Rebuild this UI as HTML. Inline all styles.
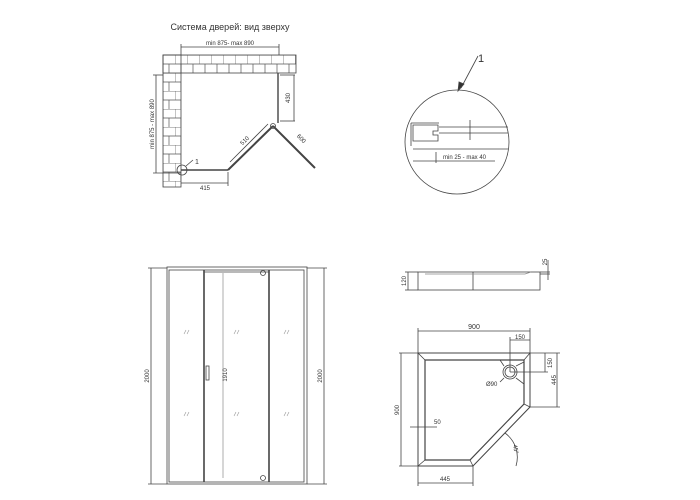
<!DOCTYPE html>
<html><head><meta charset="utf-8"><style>body{margin:0;background:#fff}svg{display:block}text{font-family:"Liberation Sans","DejaVu Sans",sans-serif;fill:#333}</style></head>
<body>
<svg width="700" height="500" viewBox="0 0 700 500" xmlns="http://www.w3.org/2000/svg">
<defs>
<pattern id="br" x="163" y="55" width="12" height="18" patternUnits="userSpaceOnUse"><rect width="12" height="18" fill="#fff"/><path d="M0 0 H12 M0 9 H12 M0 0 V9 M6 9 V18" stroke="#555" stroke-width="0.7" fill="none"/></pattern>
</defs>
<g stroke="#444" fill="none" stroke-width="0.8">
<!-- top view -->
<text x="230" y="30" font-size="9" text-anchor="middle" stroke="none">Система дверей: вид зверху</text>
<rect x="163" y="55" width="133" height="18" fill="url(#br)" stroke="none"/>
<rect x="163" y="73" width="18" height="114" fill="url(#br)" stroke="none"/>
<rect x="163" y="55" width="133" height="18"/>
<rect x="163" y="55" width="18" height="132"/>
<line x1="181" y1="47" x2="279" y2="47"/><line x1="181" y1="44" x2="181" y2="55"/><line x1="279" y1="44" x2="279" y2="55"/>
<text x="230" y="45" font-size="6" text-anchor="middle" stroke="none">min 875- max 890</text>
<line x1="156" y1="75" x2="156" y2="173"/><line x1="153" y1="75" x2="163" y2="75"/><line x1="153" y1="173" x2="181" y2="173"/>
<text transform="translate(154,124) rotate(-90)" font-size="6" text-anchor="middle" stroke="none">min 875 - max 890</text>
<line x1="278" y1="73" x2="278" y2="123" stroke-width="1.4"/>
<line x1="280" y1="75" x2="295" y2="75"/><line x1="280" y1="121" x2="295" y2="121"/><line x1="294" y1="75" x2="294" y2="121"/>
<text transform="translate(290,98) rotate(-90)" font-size="6" text-anchor="middle" stroke="none">430</text>
<line x1="181" y1="170" x2="228" y2="170" stroke-width="1.4"/>
<line x1="228" y1="170" x2="273" y2="126" stroke-width="2"/>
<line x1="273" y1="126" x2="315" y2="168" stroke-width="2"/>
<circle cx="273" cy="126" r="2.5"/>
<line x1="230" y1="162" x2="268" y2="124"/>
<text transform="translate(246,142) rotate(-45)" font-size="6" text-anchor="middle" stroke="none">510</text>
<text transform="translate(300,140) rotate(45)" font-size="6" text-anchor="middle" stroke="none">600</text>
<line x1="181" y1="183" x2="228" y2="183"/><line x1="228" y1="172" x2="228" y2="186"/>
<text x="205" y="190" font-size="6" text-anchor="middle" stroke="none">415</text>
<circle cx="182" cy="170" r="5"/><line x1="186" y1="166" x2="193" y2="160"/>
<text x="195" y="164" font-size="7" stroke="none">1</text>
<!-- detail -->
<circle cx="457" cy="142" r="52"/>
<line x1="478" y1="56" x2="461" y2="88"/><polygon points="458,91 459,82 464,84" fill="#333"/>
<text x="478" y="62" font-size="11" stroke="none">1</text>
<path d="M413 125 h25 v6 h-5 v4 h5 v6 h-25 z" stroke-width="0.8"/>
<path d="M411 123 h28 M411 123 v23"/>
<line x1="439" y1="127" x2="508" y2="127"/><line x1="439" y1="133" x2="508" y2="133"/><line x1="413" y1="149" x2="508" y2="149"/>
<line x1="470" y1="120" x2="470" y2="140"/>
<line x1="413" y1="161" x2="436" y2="161"/><line x1="436" y1="152" x2="436" y2="163"/><line x1="436" y1="161" x2="495" y2="161"/>
<text x="443" y="159" font-size="6" stroke="none">min 25 - max 40</text>
<!-- front view -->
<rect x="167" y="267" width="140" height="217"/>
<rect x="169" y="270" width="135" height="212"/>
<line x1="204" y1="270" x2="204" y2="482" stroke-width="1.6"/>
<line x1="269" y1="270" x2="269" y2="482" stroke-width="1.6"/>
<line x1="204" y1="272" x2="269" y2="272"/>
<rect x="206" y="366" width="3" height="14"/>
<circle cx="263" cy="273" r="2.5"/><circle cx="263" cy="478" r="2.5"/>
<line x1="223" y1="273" x2="223" y2="478" stroke="#999"/>
<text transform="translate(227,375) rotate(-90)" font-size="6" text-anchor="middle" stroke="none">1910</text>
<line x1="151" y1="268" x2="151" y2="484"/><line x1="148" y1="268" x2="167" y2="268"/><line x1="148" y1="484" x2="167" y2="484"/>
<text transform="translate(149,376) rotate(-90)" font-size="6" text-anchor="middle" stroke="none">2000</text>
<line x1="324" y1="268" x2="324" y2="484"/><line x1="307" y1="268" x2="327" y2="268"/><line x1="307" y1="484" x2="327" y2="484"/>
<text transform="translate(322,376) rotate(-90)" font-size="6" text-anchor="middle" stroke="none">2000</text>
<g stroke="#999" stroke-width="0.6">
<path d="M186 330 l-2 4 M189 330 l-2 4 M236 330 l-2 4 M239 330 l-2 4 M286 330 l-2 4 M289 330 l-2 4 M186 412 l-2 4 M189 412 l-2 4 M236 412 l-2 4 M239 412 l-2 4 M286 412 l-2 4 M289 412 l-2 4"/>
</g>
<!-- tray side -->
<rect x="418" y="272" width="122" height="18"/>
<line x1="473" y1="272" x2="473" y2="290"/>
<path d="M425 274 h100 l6 -2" stroke="#888"/>
<line x1="540" y1="272" x2="550" y2="272"/><line x1="540" y1="274" x2="550" y2="274"/>
<line x1="548" y1="260" x2="548" y2="280"/>
<text transform="translate(547,262) rotate(-90)" font-size="6" text-anchor="middle" stroke="none">25</text>
<line x1="405" y1="272" x2="418" y2="272"/><line x1="405" y1="290" x2="418" y2="290"/><line x1="408" y1="272" x2="408" y2="290"/>
<text transform="translate(406,281) rotate(-90)" font-size="6" text-anchor="middle" stroke="none">120</text>
<!-- tray top -->
<polygon points="418,353 530,353 530,407 473,466 418,466" stroke-width="1"/>
<polygon points="425,360 524,360 524,404 470,460 425,460" stroke-width="1.2"/>
<path d="M418 353 L425 360 M530 353 L524 360 M530 407 L524 404 M473 466 L470 460 M418 466 L425 460"/>
<circle cx="510" cy="372" r="7"/><circle cx="510" cy="372" r="5"/>
<path d="M500 360 l4 6 M524 362 l-8 4 M524 384 l-8 -6 M504 378 l-4 4"/>
<line x1="418" y1="331" x2="530" y2="331"/><line x1="418" y1="328" x2="418" y2="353"/><line x1="530" y1="328" x2="530" y2="353"/>
<text x="474" y="329" font-size="7" text-anchor="middle" stroke="none">900</text>
<line x1="510" y1="340" x2="530" y2="340"/><line x1="510" y1="337" x2="510" y2="372"/>
<text x="520" y="339" font-size="6" text-anchor="middle" stroke="none">150</text>
<line x1="510" y1="372" x2="548" y2="372"/><line x1="545" y1="353" x2="545" y2="372"/>
<text transform="translate(552,363) rotate(-90)" font-size="6" text-anchor="middle" stroke="none">150</text>
<line x1="530" y1="353" x2="560" y2="353"/><line x1="530" y1="407" x2="560" y2="407"/><line x1="557" y1="353" x2="557" y2="407"/>
<text transform="translate(556,380) rotate(-90)" font-size="6" text-anchor="middle" stroke="none">445</text>
<text x="486" y="386" font-size="6" stroke="none">Ø90</text>
<line x1="399" y1="353" x2="418" y2="353"/><line x1="399" y1="466" x2="418" y2="466"/><line x1="401" y1="353" x2="401" y2="466"/>
<text transform="translate(399,410) rotate(-90)" font-size="6" text-anchor="middle" stroke="none">900</text>
<line x1="410" y1="427" x2="437" y2="427"/><text x="434" y="424" font-size="6" stroke="none">50</text>
<line x1="418" y1="483" x2="473" y2="483"/><line x1="418" y1="466" x2="418" y2="486"/><line x1="473" y1="466" x2="473" y2="486"/>
<text x="445" y="481" font-size="6" text-anchor="middle" stroke="none">445</text>
<path d="M505 433 A30 30 0 0 1 516 466"/>
<text transform="translate(513,445) rotate(80)" font-size="6" stroke="none">45°</text>
</g>
</svg>
</body></html>
